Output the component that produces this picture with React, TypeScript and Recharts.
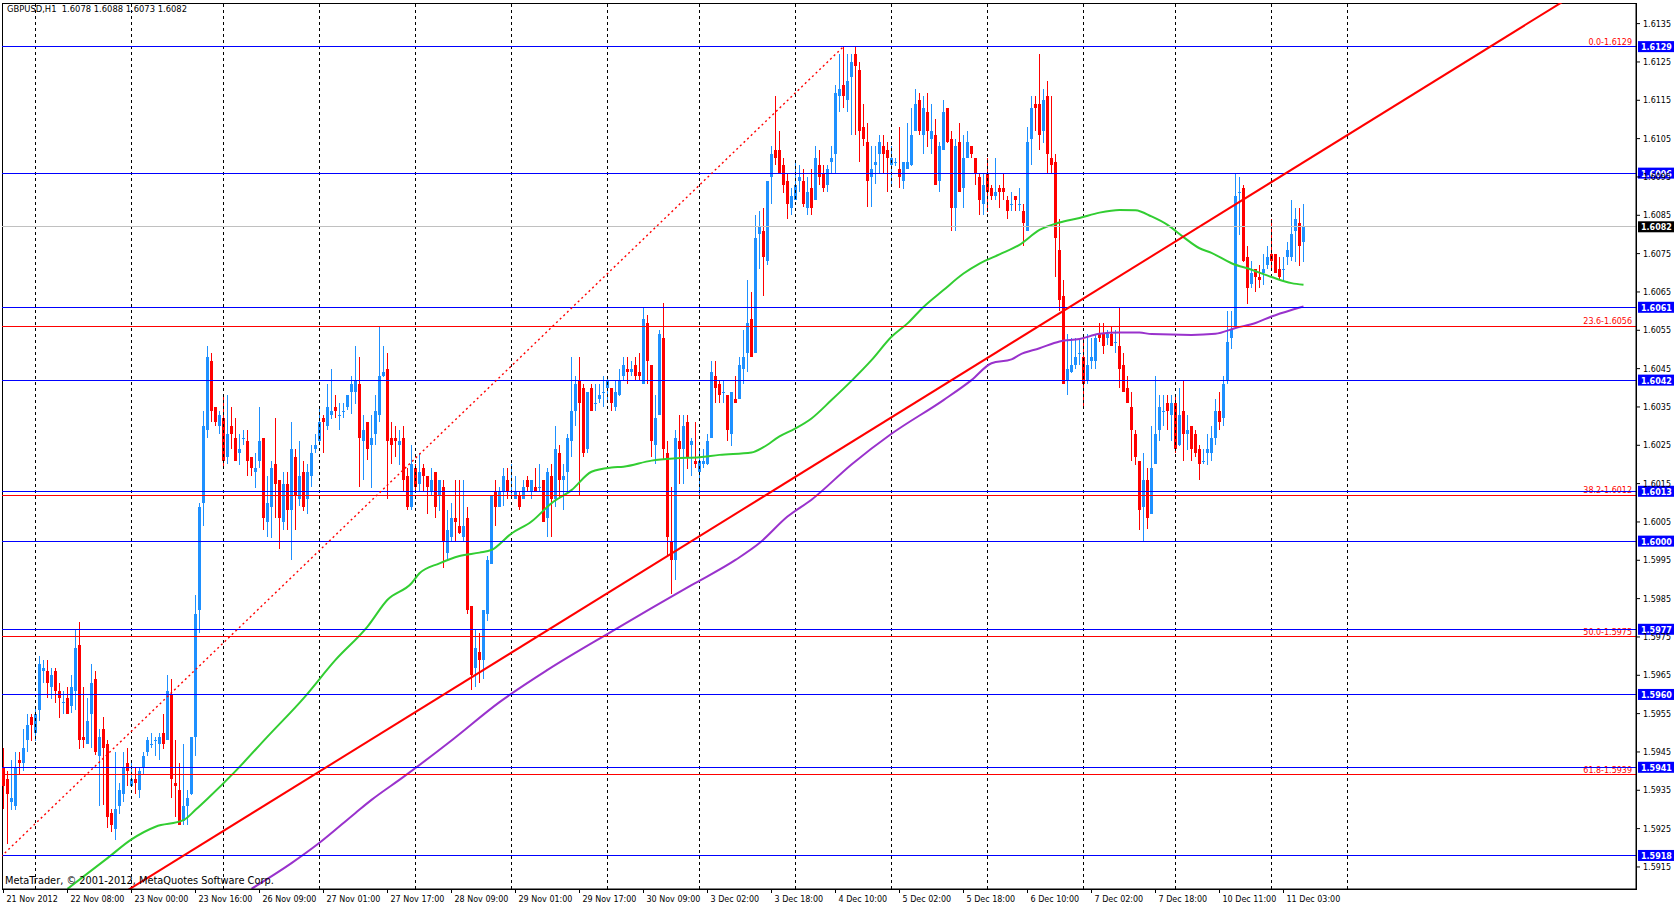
import { ComposedChart, Bar, Line, XAxis, YAxis, ReferenceLine, ReferenceArea } from 'recharts'

// GBPUSD H1, prices kept in pips: price = 1 + v / 10000
const openPips = [
  5941, 5938, 5932, 5931, 5943, 5942, 5948, 5954, 5950, 5956, 5966, 5966, 5962, 5966, 5961, 5958, 5959, 5957, 5961, 5973,
  5949, 5947, 5955, 5964, 5944, 5951, 5947, 5929, 5925, 5931, 5934, 5942, 5936, 5938, 5935, 5941, 5945, 5947, 5948, 5947,
  5950, 5948, 5960, 5937, 5935, 5927, 5931, 5934, 5949, 5982, 6010, 6029, 6047, 6035, 6030, 6032, 6022, 6030, 6027, 6023,
  6027, 6026, 6022, 6018, 6021, 6027, 6005, 6009, 6020, 6016, 6005, 6015, 6008, 6022, 6011, 6018, 6011, 6017, 6024, 6026,
  6032, 6030, 6033, 6035, 6033, 6034, 6035, 6039, 6039, 6041, 6026, 6031, 6025, 6028, 6033, 6043, 6045, 6027, 6027, 6025,
  6027, 6017, 6009, 6019, 6015, 6019, 6017, 6013, 6018, 6012, 6014, 5997, 6001, 6006, 6004, 6001, 6006, 5983, 5967, 5971,
  5969, 5981, 5994, 6013, 6009, 6013, 6016, 6013, 6011, 6012, 6011, 6016, 6013, 6014, 6014, 6016, 6006, 6017, 6011, 6023,
  6016, 6018, 6026, 6034, 6042, 6040, 6024, 6040, 6036, 6037, 6039, 6040, 6040, 6035, 6038, 6043, 6045, 6044, 6046, 6044,
  6041, 6057, 6046, 6025, 6033, 6053, 6023, 6000, 5995, 6026, 6024, 6031, 6025, 6021, 6018, 6020, 6020, 6027, 6043, 6041,
  6039, 6038, 6028, 6037, 6037, 6045, 6049, 6058, 6049, 6080, 6081, 6073, 6095, 6102, 6102, 6098, 6094, 6087, 6089, 6094,
  6094, 6087, 6092, 6089, 6098, 6096, 6093, 6099, 6101, 6116, 6119, 6115, 6121, 6127, 6123, 6108, 6104, 6095, 6098, 6101,
  6103, 6102, 6098, 6099, 6097, 6094, 6097, 6098, 6107, 6115, 6106, 6112, 6105, 6106, 6094, 6102, 6113, 6105, 6087, 6104,
  6092, 6100, 6103, 6100, 6095, 6088, 6096, 6092, 6090, 6092, 6092, 6089, 6088, 6090, 6088, 6086, 6081, 6105, 6114, 6114,
  6107, 6116, 6100, 6099, 6076, 6064, 6042, 6044, 6046, 6049, 6048, 6042, 6047, 6047, 6054, 6054, 6053, 6054, 6052, 6051,
  6046, 6040, 6035, 6028, 6021, 6009, 6016, 6007, 6020, 6029, 6034, 6036, 6033, 6036, 6025, 6034, 6028, 6030, 6028, 6024,
  6021, 6023, 6023, 6027, 6034, 6032, 6042, 6053, 6056, 6091, 6092, 6074, 6067, 6071, 6069, 6070, 6072, 6075, 6075, 6071,
  6071, 6074, 6074, 6081, 6083, 6078,
]
const highPips = [
  5946, 5940, 5943, 5945, 5945, 5951, 5955, 5955, 5957, 5970, 5969, 5969, 5967, 5967, 5963, 5961, 5962, 5965, 5977, 5979,
  5962, 5959, 5968, 5966, 5951, 5954, 5948, 5930, 5945, 5937, 5945, 5946, 5943, 5941, 5941, 5945, 5949, 5950, 5949, 5950,
  5955, 5965, 5964, 5948, 5942, 5947, 5935, 5949, 5986, 6010, 6034, 6051, 6049, 6035, 6034, 6038, 6038, 6035, 6032, 6028,
  6029, 6029, 6022, 6023, 6035, 6027, 6017, 6021, 6032, 6016, 6018, 6018, 6031, 6024, 6026, 6021, 6020, 6025, 6028, 6035,
  6033, 6041, 6045, 6038, 6036, 6036, 6038, 6043, 6051, 6048, 6033, 6031, 6033, 6038, 6056, 6051, 6049, 6031, 6030, 6029,
  6030, 6019, 6025, 6020, 6023, 6020, 6017, 6019, 6018, 6016, 6016, 6008, 6010, 6016, 6016, 6016, 6009, 5983, 5977, 5976,
  5982, 5996, 6012, 6016, 6014, 6019, 6019, 6020, 6017, 6013, 6016, 6017, 6016, 6019, 6020, 6016, 6019, 6020, 6030, 6025,
  6020, 6028, 6048, 6043, 6048, 6041, 6039, 6041, 6041, 6041, 6043, 6043, 6040, 6042, 6045, 6048, 6048, 6047, 6048, 6049,
  6061, 6059, 6046, 6038, 6055, 6062, 6026, 6014, 6029, 6033, 6033, 6033, 6027, 6031, 6024, 6024, 6028, 6047, 6047, 6042,
  6042, 6038, 6039, 6043, 6048, 6055, 6068, 6065, 6085, 6086, 6087, 6094, 6103, 6116, 6107, 6100, 6096, 6092, 6099, 6098,
  6097, 6095, 6097, 6103, 6102, 6098, 6098, 6103, 6119, 6127, 6129, 6127, 6127, 6129, 6125, 6114, 6109, 6103, 6103, 6106,
  6106, 6104, 6103, 6100, 6108, 6099, 6109, 6113, 6118, 6117, 6116, 6117, 6114, 6110, 6104, 6115, 6113, 6107, 6105, 6109,
  6106, 6107, 6103, 6100, 6096, 6096, 6100, 6093, 6100, 6093, 6096, 6090, 6091, 6090, 6092, 6088, 6108, 6116, 6116, 6127,
  6118, 6120, 6116, 6101, 6084, 6068, 6054, 6053, 6053, 6053, 6054, 6054, 6053, 6054, 6057, 6057, 6055, 6056, 6055, 6061,
  6049, 6043, 6039, 6029, 6021, 6023, 6019, 6030, 6043, 6038, 6038, 6038, 6038, 6038, 6040, 6042, 6033, 6030, 6029, 6025,
  6024, 6028, 6030, 6037, 6039, 6043, 6060, 6060, 6096, 6095, 6093, 6077, 6073, 6071, 6072, 6075, 6077, 6084, 6075, 6074,
  6074, 6078, 6089, 6087, 6087, 6088,
]
const lowPips = [
  5930, 5921, 5930, 5930, 5939, 5940, 5945, 5948, 5948, 5953, 5963, 5959, 5959, 5958, 5954, 5955, 5955, 5955, 5956, 5946,
  5946, 5947, 5946, 5944, 5931, 5931, 5925, 5924, 5922, 5929, 5932, 5936, 5936, 5934, 5933, 5939, 5944, 5946, 5944, 5943,
  5946, 5948, 5933, 5928, 5926, 5926, 5926, 5934, 5944, 5976, 6004, 6027, 6031, 6030, 6028, 6019, 6020, 6024, 6021, 6020,
  6025, 6017, 6017, 6014, 6019, 6003, 6001, 6001, 6006, 5998, 6003, 6003, 5995, 6003, 6009, 6008, 6007, 6014, 6023, 6025,
  6023, 6029, 6032, 6032, 6029, 6032, 6034, 6033, 6036, 6014, 6016, 6021, 6014, 6025, 6031, 6043, 6011, 6020, 6022, 6020,
  6013, 6008, 6008, 6013, 6013, 6013, 6007, 6012, 6006, 6008, 5993, 5995, 6000, 6000, 6002, 6000, 5981, 5961, 5962, 5963,
  5964, 5979, 5994, 6004, 6009, 6009, 6011, 6012, 6011, 6008, 6011, 6013, 6011, 6013, 6013, 6005, 6001, 6001, 6009, 6011,
  6008, 6013, 6022, 6030, 6012, 6022, 6023, 6034, 6034, 6036, 6035, 6036, 6034, 6034, 6038, 6042, 6041, 6043, 6042, 6042,
  6041, 6041, 6022, 6020, 6033, 6021, 5996, 5986, 5990, 6015, 6015, 6019, 6017, 6019, 6012, 6019, 6020, 6027, 6036, 6036,
  6036, 6026, 6025, 6036, 6037, 6041, 6044, 6048, 6049, 6071, 6064, 6072, 6088, 6098, 6096, 6091, 6084, 6085, 6089, 6091,
  6087, 6085, 6085, 6089, 6093, 6091, 6091, 6096, 6096, 6112, 6113, 6112, 6106, 6106, 6099, 6103, 6087, 6087, 6093, 6096,
  6096, 6091, 6093, 6098, 6092, 6092, 6097, 6098, 6107, 6106, 6101, 6103, 6101, 6093, 6091, 6102, 6104, 6081, 6081, 6091,
  6087, 6100, 6100, 6093, 6085, 6085, 6086, 6089, 6089, 6087, 6089, 6084, 6086, 6086, 6086, 6077, 6081, 6098, 6107, 6102,
  6104, 6096, 6096, 6069, 6060, 6041, 6038, 6044, 6045, 6046, 6035, 6041, 6045, 6045, 6052, 6049, 6051, 6051, 6049, 6040,
  6039, 6036, 6021, 6020, 6003, 6000, 6003, 6007, 6020, 6026, 6030, 6029, 6026, 6023, 6025, 6021, 6024, 6021, 6022, 6016,
  6020, 6020, 6021, 6025, 6029, 6030, 6041, 6050, 6056, 6080, 6073, 6062, 6066, 6065, 6066, 6067, 6071, 6071, 6070, 6068,
  6068, 6072, 6073, 6073, 6072, 6073,
]
const closePips = [
  5936, 5934, 5933, 5941, 5942, 5946, 5952, 5952, 5955, 5968, 5967, 5963, 5965, 5961, 5959, 5958, 5955, 5962, 5972, 5948,
  5948, 5953, 5963, 5945, 5949, 5946, 5928, 5926, 5930, 5935, 5941, 5940, 5938, 5937, 5940, 5944, 5948, 5947, 5948, 5949,
  5947, 5961, 5938, 5936, 5926, 5931, 5933, 5949, 5981, 6009, 6030, 6048, 6034, 6031, 6033, 6021, 6028, 6028, 6021, 6024,
  6027, 6021, 6019, 6019, 6026, 6006, 6010, 6019, 6015, 6006, 6015, 6008, 6024, 6012, 6017, 6009, 6018, 6023, 6025, 6031,
  6031, 6035, 6034, 6034, 6033, 6034, 6038, 6041, 6042, 6027, 6029, 6024, 6027, 6034, 6043, 6044, 6026, 6025, 6026, 6026,
  6016, 6009, 6020, 6014, 6018, 6017, 6014, 6016, 6009, 6016, 6000, 6003, 6006, 6005, 6002, 6004, 5982, 5965, 5972, 5969,
  5982, 5995, 6012, 6009, 6013, 6017, 6013, 6013, 6013, 6009, 6014, 6014, 6016, 6013, 6014, 6005, 6018, 6011, 6024, 6016,
  6017, 6027, 6034, 6041, 6036, 6023, 6039, 6034, 6036, 6038, 6039, 6042, 6036, 6039, 6042, 6046, 6044, 6045, 6043, 6043,
  6058, 6047, 6026, 6032, 6054, 6024, 6001, 5995, 6027, 6024, 6030, 6022, 6026, 6020, 6021, 6021, 6026, 6044, 6040, 6038,
  6039, 6029, 6039, 6036, 6046, 6048, 6057, 6048, 6079, 6082, 6074, 6094, 6101, 6100, 6096, 6093, 6088, 6090, 6093, 6095,
  6088, 6091, 6087, 6100, 6095, 6092, 6097, 6100, 6117, 6118, 6116, 6120, 6125, 6124, 6107, 6105, 6094, 6097, 6099, 6104,
  6101, 6100, 6100, 6099, 6095, 6099, 6099, 6106, 6114, 6107, 6113, 6107, 6107, 6093, 6103, 6112, 6104, 6087, 6103, 6091,
  6100, 6104, 6101, 6096, 6089, 6093, 6091, 6090, 6091, 6091, 6091, 6086, 6088, 6089, 6088, 6083, 6104, 6113, 6113, 6106,
  6115, 6101, 6098, 6079, 6063, 6041, 6045, 6046, 6048, 6049, 6041, 6046, 6048, 6053, 6053, 6051, 6054, 6051, 6052, 6045,
  6039, 6036, 6029, 6022, 6008, 6016, 6006, 6019, 6028, 6035, 6034, 6034, 6036, 6024, 6033, 6028, 6029, 6024, 6023, 6020,
  6021, 6024, 6027, 6034, 6031, 6041, 6052, 6055, 6090, 6091, 6073, 6066, 6070, 6069, 6068, 6071, 6074, 6073, 6070, 6069,
  6071, 6076, 6080, 6084, 6077, 6082,
]

// time axis: one label every 16 bars starting at bar 0
const timeLabels = [
  '21 Nov 2012', '22 Nov 08:00', '23 Nov 00:00', '23 Nov 16:00', '26 Nov 09:00', '27 Nov 01:00', '27 Nov 17:00',
  '28 Nov 09:00', '29 Nov 01:00', '29 Nov 17:00', '30 Nov 09:00', '3 Dec 02:00', '3 Dec 18:00', '4 Dec 10:00',
  '5 Dec 02:00', '5 Dec 18:00', '6 Dec 10:00', '7 Dec 02:00', '7 Dec 18:00', '10 Dec 11:00', '11 Dec 03:00',
]
const labelBars = timeLabels.map((_, i) => i * 16)
const dayStartBars = [8, 32, 55, 79, 103, 127, 151, 174, 198, 222, 246, 270, 293, 317, 336]

// moving averages, sampled along the curve
const maFastBars = [16, 26, 32, 38, 45, 48, 51, 58, 66, 75, 83, 91, 96, 102, 104, 109, 114, 119, 122, 127, 132, 137, 142, 147, 152, 155, 162, 168, 174, 179, 187, 190, 194, 198, 202, 207, 212, 217, 222, 226, 230, 235, 240, 244, 249, 254, 259, 264, 269, 274, 279, 283, 287, 291, 295, 299, 302, 307, 312, 317, 322, 325]
const maFastPips = [5909.3, 5917.3, 5922.2, 5925.5, 5927.2, 5929.9, 5932.8, 5940, 5949, 5959, 5969, 5977.7, 5984.7, 5989, 5991.6, 5994.2, 5996.1, 5997, 5997.7, 6002, 6005.1, 6009.9, 6013.3, 6018.1, 6019.2, 6019.4, 6021, 6021.6, 6021.9, 6022.5, 6023.1, 6024.5, 6027.3, 6029.4, 6032, 6036.8, 6041.8, 6047.2, 6053.3, 6056.8, 6061.1, 6065.5, 6069.8, 6072.4, 6074.8, 6077.3, 6081.2, 6083.1, 6084.3, 6085.7, 6086.4, 6086.3, 6084.7, 6082.5, 6079.3, 6076.4, 6075.2, 6072.5, 6070.8, 6068.9, 6067.3, 6066.9]
const maSlowBars = [62, 72, 79, 88, 92, 100, 112, 124, 136, 152, 162, 172, 183, 189, 196, 202, 212, 222, 235, 242, 247, 252, 254, 259, 264, 269, 274, 279, 284, 287, 297, 303, 308, 313, 317, 322, 325]
const maSlowPips = [5909.3, 5916, 5921.3, 5929.1, 5932.5, 5938.5, 5948, 5958, 5966.4, 5976.4, 5982.5, 5988.5, 5995.1, 5999.5, 6006.4, 6010.8, 6020, 6028, 6036.8, 6042, 6046.4, 6047.4, 6048.6, 6050.3, 6052.1, 6052.7, 6054.1, 6054.4, 6054.4, 6054, 6053.8, 6054.1, 6055.6, 6056.9, 6058.6, 6060.3, 6061.2]

// horizontal objects
const levelPips = [6129, 6096, 6061, 6042, 6013, 6000, 5977, 5960, 5941, 5918]
const fibNames = ['0.0', '23.6', '38.2', '50.0', '61.8']
const fibPips = [6129, 6056, 6012, 5975, 5939]
const bidPips = 6082
const trendAnchors = [{ bar: 20, pips: 5901.8 }, { bar: 400, pips: 6147.3 }]
const fibAnchors = [{ bar: -97, pips: 5821 }, { bar: 210, pips: 6129 }]

const priceTicks = [
  1.5915, 1.5925, 1.5935, 1.5945, 1.5955, 1.5965, 1.5975, 1.5985, 1.5995, 1.6005, 1.6015, 1.6025,
  1.6035, 1.6045, 1.6055, 1.6065, 1.6075, 1.6085, 1.6095, 1.6105, 1.6115, 1.6125, 1.6135,
]

const px = (v: number) => 1 + v / 10000
const X_MIN = -0.375
const X_MAX = 408.125
const Y_MIN = 1.590925
const Y_MAX = 1.614038
const FONT = '"DejaVu Sans", Verdana, sans-serif'
const UP = '#1e90ff'
const DOWN = '#ff0000'
const LEVEL = '#0000ff'

const data = openPips.map((o, i) => {
  const fi = maFastBars.indexOf(i)
  const si = maSlowBars.indexOf(i)
  return {
    bar: i,
    open: px(o),
    high: px(highPips[i]),
    low: px(lowPips[i]),
    close: px(closePips[i]),
    range: [px(lowPips[i]), px(highPips[i])],
    maFast: fi >= 0 ? px(maFastPips[fi]) : null,
    maSlow: si >= 0 ? px(maSlowPips[si]) : null,
  }
})

const Candle = (props: any) => {
  const { x, y, width, height, payload } = props
  if (!payload || x == null) return null
  const top = Math.min(y, y + height)
  const h = Math.abs(height)
  const span = payload.high - payload.low || 1
  const toY = (p: number) => top + ((payload.high - p) / span) * h
  const up = payload.close >= payload.open
  const color = up ? UP : DOWN
  const cx = Math.floor(x + width / 2)
  const bTop = Math.round(toY(Math.max(payload.open, payload.close)))
  const bBot = Math.round(toY(Math.min(payload.open, payload.close)))
  return (
    <g shapeRendering="crispEdges">
      <rect x={cx} y={Math.round(top)} width={1} height={Math.max(Math.round(h), 1)} fill={color} />
      <rect x={cx - 1} y={bTop} width={3} height={Math.max(bBot - bTop, 1)} fill={color} />
    </g>
  )
}

const TimeTick = (props: any) => {
  const { x, y, payload } = props
  const idx = labelBars.indexOf(payload.value)
  return (
    <text x={x + 3} y={y} dy={7} fontSize={8} fontFamily={FONT} fill="#000" textAnchor="start">
      {idx >= 0 ? timeLabels[idx] : ''}
    </text>
  )
}

const PriceTick = (props: any) => {
  const { x, y, payload } = props
  return (
    <text x={x + 1} y={y} dy={3} fontSize={8} fontFamily={FONT} fill="#000" textAnchor="start">
      {Number(payload.value).toFixed(4)}
    </text>
  )
}

const priceBox = (value: number, bg: string) => (props: any) => {
  const vb = props.viewBox
  if (!vb) return null
  const right = vb.x + vb.width
  return (
    <g>
      <rect x={right + 2} y={vb.y - 5.5} width={36} height={11} fill={bg} />
      <text x={right + 5} y={vb.y + 3.5} fontSize={8} fontWeight="bold" fontFamily={FONT} fill="#fff">
        {value.toFixed(4)}
      </text>
    </g>
  )
}

const fibLabel = (text: string) => (props: any) => {
  const vb = props.viewBox
  if (!vb) return null
  return (
    <text x={vb.x + vb.width - 4} y={vb.y - 2} fontSize={8} fontFamily={FONT} fill="#ff0000" textAnchor="end">
      {text}
    </text>
  )
}

export default function App() {
  return (
    <div style={{ position: 'absolute', left: 0, top: 0, width: 1674, height: 906, background: '#fff' }}>
      <ComposedChart width={1674} height={906} data={data} margin={{ top: 3, right: 0, bottom: 0, left: 2 }}>
        <XAxis
          dataKey="bar"
          type="number"
          domain={[X_MIN, X_MAX]}
          allowDataOverflow
          ticks={labelBars}
          interval={0}
          height={17}
          tickSize={4}
          tickMargin={2}
          tick={<TimeTick />}
          stroke="#000"
        />
        <YAxis
          type="number"
          orientation="right"
          domain={[Y_MIN, Y_MAX]}
          allowDataOverflow
          ticks={priceTicks}
          interval={0}
          width={38}
          tickSize={4}
          tickMargin={2}
          tick={<PriceTick />}
          stroke="#000"
        />
        {dayStartBars.map(b => (
          <ReferenceLine key={'d' + b} x={b} stroke="#000" strokeDasharray="3 3" shapeRendering="crispEdges" />
        ))}
        <Bar dataKey="range" barSize={3} shape={Candle} isAnimationActive={false} />
        <Line dataKey="maSlow" stroke="#9932cc" strokeWidth={2} dot={false} connectNulls type="monotone" isAnimationActive={false} />
        <Line dataKey="maFast" stroke="#32cd32" strokeWidth={2} dot={false} connectNulls type="monotone" isAnimationActive={false} />
        {fibPips.map((v, i) => (
          <ReferenceLine
            key={'f' + v}
            y={px(v)}
            stroke="#ff0000"
            shapeRendering="crispEdges"
            label={fibLabel(`${fibNames[i]}-${px(v).toFixed(4)}`)}
          />
        ))}
        <ReferenceLine y={px(bidPips)} stroke="#c0c0c0" shapeRendering="crispEdges" label={priceBox(px(bidPips), '#000')} />
        {levelPips.map(v => (
          <ReferenceLine key={'l' + v} y={px(v)} stroke={LEVEL} shapeRendering="crispEdges" label={priceBox(px(v), LEVEL)} />
        ))}
        <ReferenceLine
          segment={trendAnchors.map(a => ({ x: a.bar, y: px(a.pips) }))}
          stroke="#ff0000"
          strokeWidth={2}
          ifOverflow="hidden"
        />
        <ReferenceLine
          segment={fibAnchors.map(a => ({ x: a.bar, y: px(a.pips) }))}
          stroke="#ff0000"
          strokeWidth={1.4}
          strokeDasharray="2 3"
          ifOverflow="hidden"
        />
        <ReferenceArea x1={X_MIN} x2={X_MAX} y1={Y_MIN} y2={Y_MAX} fill="none" stroke="#000" ifOverflow="visible" shapeRendering="crispEdges" />
      </ComposedChart>
      <div style={{ position: 'absolute', left: 7, top: 4, fontFamily: FONT, fontSize: 8.4, color: '#000', whiteSpace: 'pre' }}>
        {'GBPUSD,H1  1.6078 1.6088 1.6073 1.6082'}
      </div>
      <div style={{ position: 'absolute', left: 5, top: 875, fontFamily: FONT, fontSize: 9.8, color: '#000', whiteSpace: 'pre' }}>
        {'MetaTrader, © 2001-2012, MetaQuotes Software Corp.'}
      </div>
    </div>
  )
}
